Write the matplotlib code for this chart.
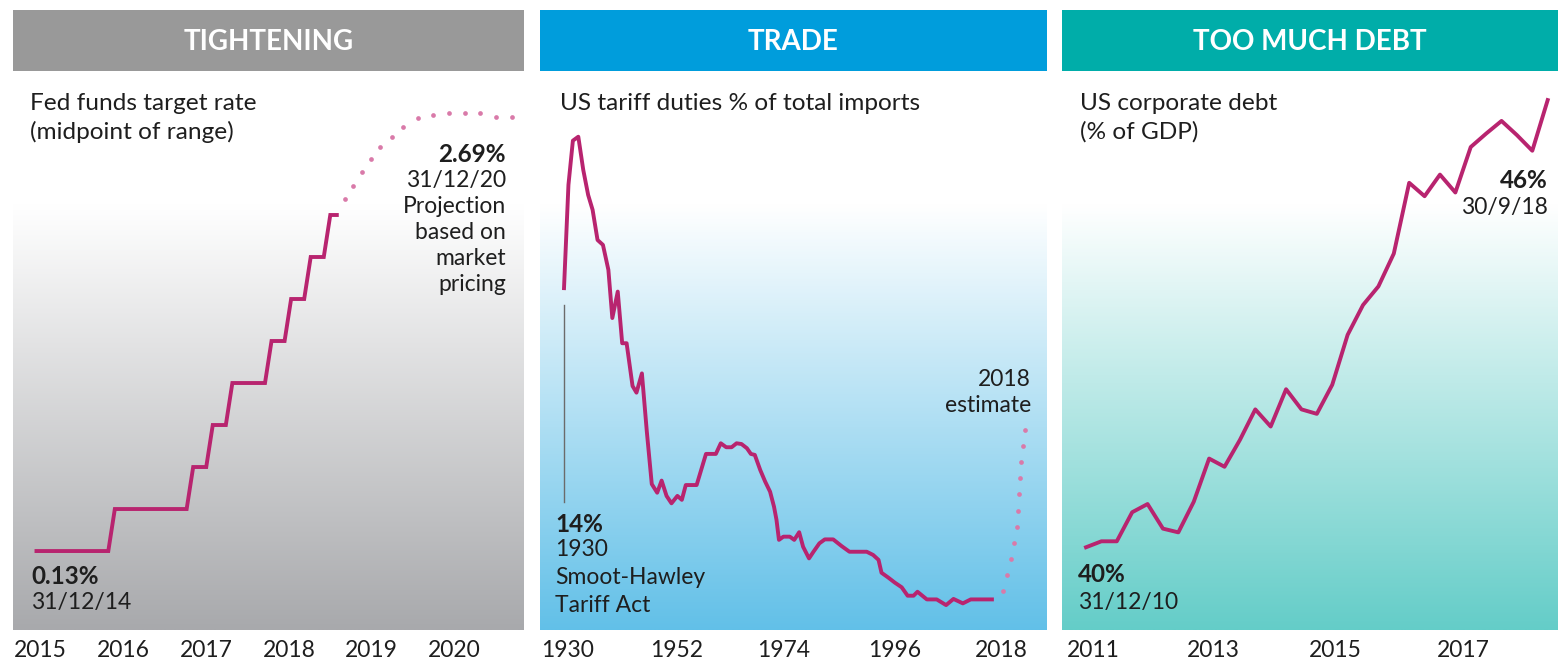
import numpy as np
import pandas as pd
import matplotlib
matplotlib.use("Agg")
import matplotlib.pyplot as plt

plt.rcParams['font.family'] = ['Lato', 'DejaVu Sans']

# ---------------- data ----------------
# Panel 1: Fed funds target rate (midpoint of range), vertices of the step line
fed_dates = ['2014-12', '2015-11', '2015-12', '2016-11', '2016-12', '2017-02', '2017-03',
             '2017-05', '2017-06', '2017-11', '2017-12', '2018-02', '2018-03', '2018-05',
             '2018-06', '2018-08', '2018-09', '2018-10']
fed_rate = [0.125, 0.125, 0.375, 0.375, 0.625, 0.625, 0.875,
            0.875, 1.125, 1.125, 1.375, 1.375, 1.625, 1.625,
            1.875, 1.875, 2.125, 2.125]
# market-pricing projection (dots)
proj_years = [2018.85, 2018.96, 2019.07, 2019.18, 2019.30, 2019.45, 2019.60,
              2019.79, 2019.98, 2020.18, 2020.38, 2020.58, 2020.78, 2020.98]
proj_rate = [2.22, 2.30, 2.38, 2.46, 2.53, 2.59, 2.65,
             2.70, 2.72, 2.73, 2.73, 2.73, 2.71, 2.71]
fed_tick_labels = ['2015', '2016', '2017', '2018', '2019', '2020']

# Panel 2: US tariff duties % of total imports
tariff_years = [1930.0, 1930.9, 1931.8, 1932.9, 1933.9, 1934.9, 1935.8, 1936.8, 1937.9, 1939.0,
                1939.8, 1940.9, 1941.8, 1942.7, 1943.9, 1944.7, 1945.8, 1946.8, 1947.8, 1948.9,
                1949.8, 1950.8, 1951.8, 1953.0, 1953.9, 1954.7, 1956.9, 1958.8, 1960.8, 1961.8,
                1962.9, 1964.0, 1965.0, 1966.0, 1967.1, 1967.9, 1968.7, 1969.8, 1970.8, 1971.8,
                1972.6, 1973.1, 1973.6, 1974.5, 1975.8, 1976.7, 1977.7, 1978.5, 1979.7, 1980.6,
                1981.8, 1982.9, 1984.6, 1986.3, 1987.9, 1991.4, 1992.7, 1993.8, 1994.4, 1995.8,
                1997.1, 1998.5, 1999.7, 2000.9, 2001.7, 2003.6, 2005.6, 2007.5, 2009.0, 2010.9,
                2012.5, 2016.8]
tariff_pct = [14.0, 18.18, 19.97, 20.13, 18.79, 17.77, 17.17, 15.95, 15.75, 14.74,
              12.79, 13.86, 11.77, 11.77, 10.04, 9.77, 10.55, 8.19, 6.07, 5.72,
              6.21, 5.59, 5.29, 5.59, 5.43, 6.03, 6.03, 7.29, 7.29, 7.72,
              7.56, 7.56, 7.72, 7.69, 7.52, 7.29, 7.25, 6.64, 6.17, 5.76,
              5.15, 4.62, 3.81, 3.94, 3.94, 3.81, 4.12, 3.53, 3.06, 3.33,
              3.67, 3.83, 3.83, 3.56, 3.33, 3.33, 3.20, 3.00, 2.48, 2.28,
              2.08, 1.89, 1.55, 1.55, 1.71, 1.40, 1.40, 1.17, 1.42, 1.24,
              1.40, 1.40]
est_years = [2019.0, 2019.8, 2020.6, 2021.2, 2021.8, 2022.0, 2022.3, 2022.5, 2022.7, 2023.1, 2023.6]
est_pct = [1.75, 2.40, 3.04, 3.67, 4.34, 4.99, 5.66, 6.30, 6.95, 7.61, 8.26]
tariff_tick_labels = ['1930', '1952', '1974', '1996', '2018']

# Panel 3: US corporate debt (% of GDP), quarterly
debt_pct = [40.00, 40.08, 40.08, 40.47, 40.58, 40.25, 40.20, 40.61, 41.19, 41.08,
            41.44, 41.85, 41.62, 42.12, 41.85, 41.79, 42.18, 42.85, 43.25, 43.50,
            43.94, 44.89, 44.71, 45.00, 44.76, 45.37, 45.55, 45.72, 45.53, 45.32,
            46.00]
debt_tick_labels = ['2011', '2013', '2015', '2017']

# ---------------- layout / style ----------------
W, H = 1558, 660
LINE = '#b8246f'
DOT = '#d97aa9'
TXT = '#1e1e1e'
FS = 16.5      # annotation text
FS_SUB = 17.6  # panel subtitles
FS_BOLD = 17.5 # bold values
FS_TICK = 16.5

fig = plt.figure(figsize=(W / 100, H / 100), dpi=100)


def px_axes(x0, x1, y0, y1):
    return fig.add_axes([x0 / W, 1 - y1 / H, (x1 - x0) / W, (y1 - y0) / H])


def ftext(x, y, s, **kw):
    kw.setdefault('fontsize', FS)
    kw.setdefault('color', TXT)
    kw.setdefault('va', 'center')
    fig.text(x / W, 1 - y / H, s, **kw)


def gradient(ax, bottom_hex, y_top=71, y_bot=630, y_start=205):
    n = 400
    ys = np.linspace(y_top, y_bot, n)
    frac = np.clip((ys - y_start) / (y_bot - y_start), 0, 1)
    top = np.array([1.0, 1.0, 1.0])
    bot = np.array(matplotlib.colors.to_rgb(bottom_hex))
    img = top + (bot - top) * frac[:, None]
    ax.imshow(img[:, None, :], extent=[0, 1, 0, 1], transform=ax.transAxes,
              aspect='auto', zorder=0, interpolation='bilinear')


def header(x0, x1, color, title):
    hx = px_axes(x0, x1, 10, 71)
    hx.set_facecolor(color)
    hx.set_xticks([]); hx.set_yticks([])
    for s in hx.spines.values():
        s.set_visible(False)
    hx.text(0.5, 0.47, title, transform=hx.transAxes, ha='center', va='center',
            color='white', fontsize=20, fontweight='bold')


def style(ax, ticks, labels):
    ax.set_xticks(ticks)
    ax.set_xticklabels(labels, fontsize=FS_TICK, color=TXT)
    ax.set_yticks([])
    ax.tick_params(axis='x', length=0, pad=7)
    for s in ax.spines.values():
        s.set_visible(False)


panels = [(13, 524, '#999999', '#a8a9ac', 'TIGHTENING'),
          (540, 1047, '#009ddc', '#62c0e8', 'TRADE'),
          (1062, 1558, '#00ada9', '#64cdc8', 'TOO MUCH DEBT')]

axes = []
for x0, x1, hc, bc, title in panels:
    header(x0, x1, hc, title)
    ax = px_axes(x0, x1, 71, 630)
    gradient(ax, bc)
    axes.append(ax)

# ---- Panel 1 ----
ax1 = axes[0]
d = pd.to_datetime(fed_dates)
fed_t = d.year + (d.month - 1) / 12.0
ax1.plot(fed_t, fed_rate, color=LINE, lw=2.8, solid_joinstyle='miter', zorder=3)
ax1.plot(proj_years, proj_rate, 'o', color=DOT, ms=3.4, mec='none', zorder=3)
ax1.set_xlim(2014.617, 2021.139)
ax1.set_ylim(-0.345, 2.982)
style(ax1, [2014.969 + 1.0565 * i for i in range(len(fed_tick_labels))], fed_tick_labels)

ftext(30, 104, 'Fed funds target rate', fontsize=FS_SUB)
ftext(30, 132, '(midpoint of range)', fontsize=FS_SUB)
ftext(506, 155, '2.69%', ha='right', fontweight='bold', fontsize=FS_BOLD)
for i, s in enumerate(['31/12/20', 'Projection', 'based on', 'market', 'pricing']):
    ftext(506, 181 + 25.8 * i, s, ha='right')
ftext(31, 576, '0.13%', fontweight='bold', fontsize=FS_BOLD)
ftext(31, 602, '31/12/14')

# ---- Panel 2 ----
ax2 = axes[1]
ax2.plot(tariff_years, tariff_pct, color=LINE, lw=2.8, zorder=3)
ax2.plot(est_years, est_pct, 'o', color=DOT, ms=3.4, mec='none', zorder=3)
ax2.set_xlim(1925.13, 2027.97)
ax2.set_ylim(0.162, 22.79)
style(ax2, [1930.8, 1952.9, 1974.6, 1997.0, 2018.8], tariff_tick_labels)
# thin marker line for 1930
ax2.plot([tariff_years[0], tariff_years[0]], [5.36, 13.3], color='#6b6b6b', lw=1.0, zorder=2)

ftext(560, 104, 'US tariff duties % of total imports', fontsize=FS_SUB)
ftext(555, 524, '14%', fontweight='bold', fontsize=FS_BOLD)
ftext(555, 550, '1930')
ftext(555, 578, 'Smoot-Hawley')
ftext(555, 605, 'Tariff Act')
ftext(1031, 379, '2018', ha='right')
ftext(1031, 405, 'estimate', ha='right')

# ---- Panel 3 ----
ax3 = axes[2]
ax3.plot(np.arange(len(debt_pct)), debt_pct, color=LINE, lw=2.8, zorder=3)
ax3.set_xlim(-1.56, 30.67)
ax3.set_ylim(38.89, 46.39)
style(ax3, [0.455, 8.27, 16.18, 24.5], debt_tick_labels)

ftext(1080, 104, 'US corporate debt', fontsize=FS_SUB)
ftext(1080, 132, '(% of GDP)', fontsize=FS_SUB)
ftext(1548, 180, '46%', ha='right', fontweight='bold', fontsize=FS_BOLD)
ftext(1548, 207, '30/9/18', ha='right')
ftext(1078, 574, '40%', fontweight='bold', fontsize=FS_BOLD)
ftext(1078, 602, '31/12/10')

fig.savefig('out.png', dpi=100, facecolor='white')
